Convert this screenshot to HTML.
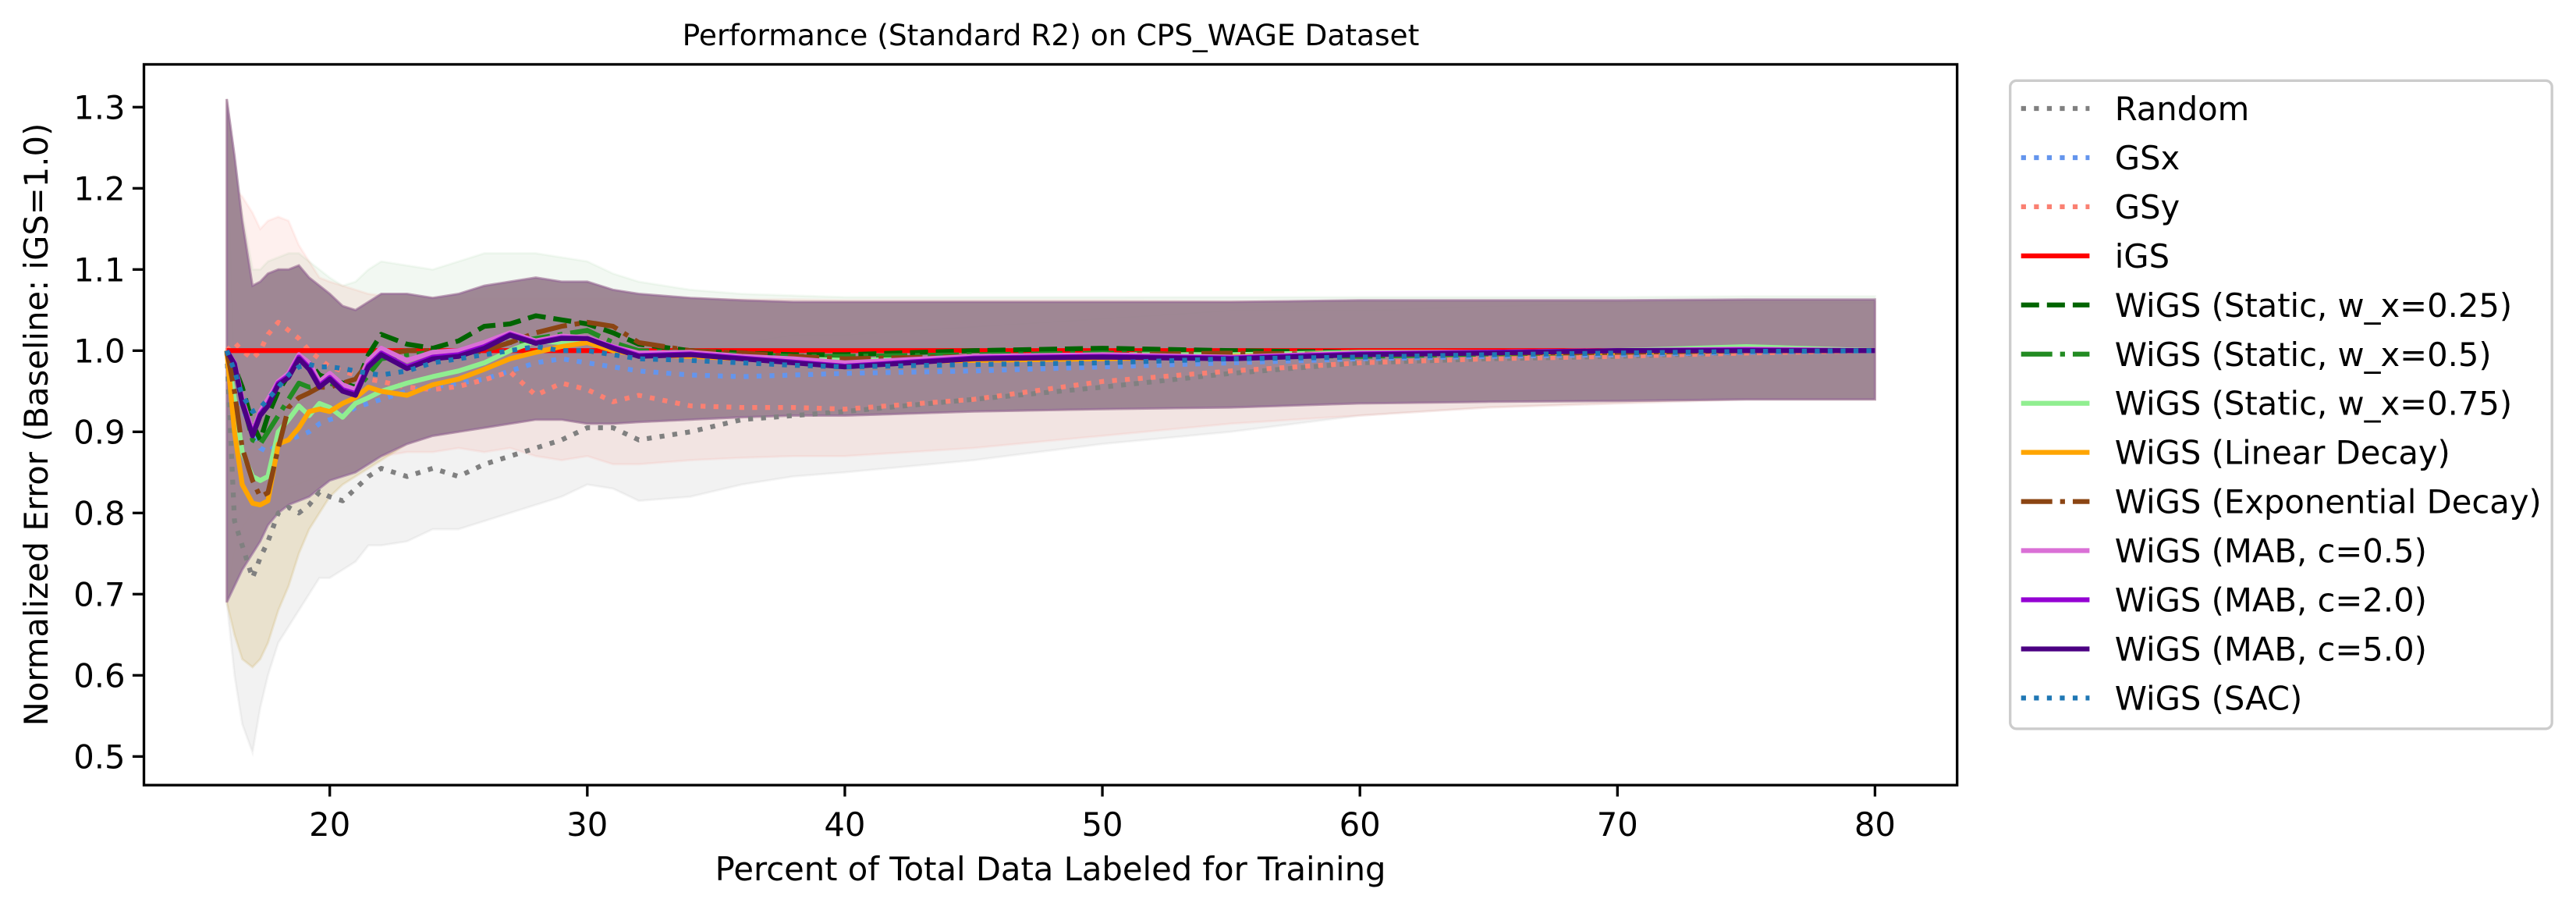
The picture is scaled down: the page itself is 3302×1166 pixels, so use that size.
<!DOCTYPE html>
<html><head><meta charset="utf-8"><style>
html,body{margin:0;padding:0;background:#fff;}
svg{display:block;font-family:"Liberation Sans","DejaVu Sans",sans-serif;}
</style></head><body>
<svg id="chart" width="3302" height="1166" viewBox="0 0 3302 1166" xmlns="http://www.w3.org/2000/svg">
<rect x="0" y="0" width="3302" height="1166" fill="#fff"/>
<text x="1347" y="58" font-size="37.5" text-anchor="middle" font-family="DejaVu Sans, sans-serif">Performance (Standard R2) on CPS_WAGE Dataset</text>
<defs><clipPath id="plotclip"><rect x="184.5" y="82.5" width="2324.2" height="923.5"/></clipPath></defs>
<g id="bands" clip-path="url(#plotclip)"></g>
<g id="lines" clip-path="url(#plotclip)"></g>
<g id="axes"></g>
<g id="legend"></g>
<text x="1346.6" y="1128" font-size="41.7" text-anchor="middle" font-family="DejaVu Sans, sans-serif">Percent of Total Data Labeled for Training</text>
<text transform="translate(61,544) rotate(-90)" font-size="41.7" text-anchor="middle" font-family="DejaVu Sans, sans-serif">Normalized Error (Baseline: iGS=1.0)</text>
</svg>
<script>
const xs = [16,16.3,16.6,17,17.3,17.6,18,18.4,18.8,19.2,19.6,20,20.5,21,21.5,22,23,24,25,26,27,28,29,30,31,32,34,36,38,40,45,50,55,60,65,70,75,80];
const randomVals = [1,0.79,0.76,0.72,0.745,0.765,0.8,0.807,0.8,0.81,0.826,0.82,0.815,0.83,0.845,0.855,0.845,0.855,0.845,0.86,0.87,0.88,0.89,0.905,0.905,0.89,0.9,0.915,0.92,0.925,0.94,0.955,0.972,0.985,0.99,0.993,0.998,1.0];
const gsxVals = [1,0.96,0.93,0.9,0.88,0.875,0.885,0.89,0.895,0.9,0.91,0.915,0.92,0.93,0.935,0.94,0.95,0.955,0.96,0.965,0.975,0.985,0.99,0.985,0.98,0.975,0.97,0.968,0.97,0.972,0.975,0.98,0.985,0.99,0.993,0.995,0.998,1.0];
const gsyVals = [1,1.01,1.0,0.99,1.0,1.02,1.035,1.025,1.015,1.0,0.99,0.98,0.975,0.97,0.965,0.962,0.955,0.952,0.956,0.964,0.974,0.945,0.96,0.952,0.937,0.945,0.932,0.93,0.93,0.928,0.94,0.962,0.975,0.985,0.99,0.993,0.997,1.0];
const igsVals = [1,1,1,1,1,1,1,1,1,1,1,1,1,1,1,1,1,1,1,1,1,1,1,1,1,1,1,1,1,1,1,1,1,1,1,1,1,1];
const static25Vals = [1,0.98,0.955,0.91,0.89,0.92,0.95,0.97,0.99,0.985,0.97,0.965,0.96,0.955,0.995,1.02,1.008,1.003,1.012,1.03,1.033,1.043,1.038,1.033,1.022,1.008,1.0,0.997,0.995,0.995,1.0,1.003,1.0,0.998,0.997,0.999,1.0,1.0];
const static50Vals = [1,0.975,0.94,0.89,0.885,0.9,0.92,0.94,0.96,0.955,0.958,0.96,0.955,0.95,0.97,0.99,0.995,0.998,1.0,1.005,1.01,1.015,1.02,1.025,1.01,1.0,0.997,0.995,0.993,0.993,0.995,0.997,0.995,0.993,0.996,0.998,1.0,1.0];
const static75Vals = [1,0.94,0.875,0.845,0.84,0.845,0.9,0.915,0.932,0.92,0.935,0.93,0.918,0.935,0.942,0.95,0.96,0.968,0.975,0.985,1.0,1.012,1.01,1.015,1.0,0.995,0.995,0.99,0.99,0.988,0.99,0.995,0.995,0.998,0.998,1.0,1.005,1.0];
const linearVals = [1,0.9,0.835,0.812,0.81,0.815,0.885,0.89,0.905,0.925,0.928,0.925,0.935,0.942,0.955,0.95,0.945,0.958,0.965,0.977,0.99,0.998,1.005,1.01,1.0,0.995,0.993,0.99,0.988,0.985,0.988,0.99,0.993,0.995,0.997,0.998,1.0,1.0];
const expVals = [1,0.95,0.88,0.84,0.82,0.825,0.88,0.93,0.942,0.948,0.955,0.955,0.96,0.965,0.985,0.995,1.0,1.0,0.995,1.0,1.01,1.022,1.03,1.035,1.03,1.01,1.0,0.997,0.993,0.99,0.993,0.995,0.997,0.995,0.997,0.998,1.0,1.0];
const mab05Vals = [1,0.985,0.94,0.9,0.925,0.94,0.962,0.972,0.995,0.985,0.962,0.972,0.958,0.952,0.988,1.003,0.988,0.998,1.0,1.01,1.022,1.012,1.018,1.016,1.005,0.997,0.998,0.993,0.99,0.985,0.993,0.995,0.992,0.997,0.998,1.0,1.002,1.0];
const mab20Vals = [1,0.984,0.937,0.897,0.922,0.934,0.96,0.969,0.992,0.979,0.957,0.967,0.952,0.947,0.982,0.997,0.98,0.992,0.995,1.005,1.02,1.01,1.016,1.015,1.004,0.994,0.996,0.991,0.986,0.981,0.991,0.993,0.991,0.996,0.998,1.0,1.001,1.0];
const mab50Vals = [1,0.983,0.935,0.895,0.92,0.932,0.958,0.967,0.99,0.977,0.955,0.965,0.95,0.945,0.98,0.995,0.978,0.99,0.993,1.003,1.019,1.009,1.015,1.015,1.003,0.993,0.995,0.99,0.985,0.98,0.99,0.992,0.99,0.995,0.997,1.0,1.0,1.0];
const sacVals = [1,0.975,0.945,0.925,0.93,0.94,0.955,0.97,0.98,0.983,0.98,0.98,0.978,0.975,0.972,0.97,0.975,0.985,0.99,0.995,1.0,1.005,1.0,1.0,0.995,0.99,0.988,0.985,0.982,0.98,0.983,0.985,0.99,0.992,0.995,0.997,0.999,1.0];
const wigsHi = [1.31,1.24,1.16,1.08,1.085,1.095,1.1,1.1,1.105,1.09,1.08,1.07,1.055,1.05,1.06,1.07,1.07,1.065,1.07,1.08,1.085,1.09,1.085,1.085,1.075,1.07,1.065,1.062,1.06,1.06,1.06,1.06,1.06,1.062,1.062,1.062,1.063,1.063];
const wigsLo = [0.69,0.71,0.73,0.75,0.765,0.785,0.8,0.81,0.815,0.82,0.83,0.84,0.845,0.85,0.86,0.87,0.885,0.895,0.9,0.905,0.91,0.915,0.915,0.91,0.91,0.912,0.915,0.918,0.92,0.92,0.925,0.928,0.93,0.935,0.937,0.938,0.94,0.94];
const greenHi = [1.31,1.24,1.17,1.1,1.1,1.11,1.115,1.12,1.12,1.11,1.1,1.09,1.08,1.085,1.1,1.11,1.105,1.1,1.11,1.12,1.12,1.12,1.115,1.11,1.095,1.085,1.075,1.07,1.068,1.066,1.066,1.066,1.066,1.066,1.066,1.066,1.067,1.067];
const decayLo = [0.69,0.65,0.62,0.61,0.62,0.64,0.68,0.71,0.75,0.78,0.8,0.82,0.835,0.845,0.855,0.865,0.885,0.895,0.9,0.905,0.91,0.915,0.915,0.91,0.91,0.912,0.915,0.918,0.92,0.92,0.925,0.928,0.93,0.935,0.937,0.938,0.94,0.94];
const randomLo = [0.69,0.6,0.54,0.505,0.56,0.6,0.64,0.66,0.68,0.7,0.72,0.72,0.73,0.74,0.76,0.76,0.765,0.78,0.78,0.79,0.8,0.81,0.82,0.835,0.83,0.815,0.82,0.835,0.845,0.85,0.865,0.885,0.9,0.92,0.93,0.935,0.94,0.94];
const randomHi = [1.31,0.98,0.96,0.94,0.94,0.95,0.96,0.96,0.95,0.95,0.96,0.96,0.95,0.96,0.97,0.98,0.97,0.97,0.96,0.97,0.98,0.99,1.0,1.01,1.01,1.0,1.0,1.01,1.02,1.02,1.03,1.04,1.05,1.05,1.055,1.06,1.06,1.06];
const gsyHi = [1.31,1.2,1.19,1.17,1.15,1.16,1.165,1.16,1.13,1.11,1.09,1.085,1.08,1.075,1.07,1.068,1.066,1.065,1.065,1.065,1.065,1.065,1.065,1.065,1.065,1.065,1.064,1.063,1.063,1.062,1.062,1.062,1.061,1.061,1.06,1.06,1.06,1.06];
const gsyLo = [0.69,0.75,0.78,0.8,0.805,0.81,0.82,0.83,0.835,0.84,0.845,0.85,0.855,0.86,0.865,0.87,0.875,0.875,0.88,0.875,0.88,0.87,0.865,0.87,0.86,0.86,0.865,0.868,0.87,0.87,0.88,0.895,0.91,0.92,0.93,0.935,0.94,0.94];
const xTicks = [20,30,40,50,60,70,80];
const yTicks = [0.5,0.6,0.7,0.8,0.9,1.0,1.1,1.2,1.3];
const yTickLabels = ["0.5","0.6","0.7","0.8","0.9","1.0","1.1","1.2","1.3"];
const seriesNames = ["Random","GSx","GSy","iGS","WiGS (Static, w_x=0.25)","WiGS (Static, w_x=0.5)","WiGS (Static, w_x=0.75)","WiGS (Linear Decay)","WiGS (Exponential Decay)","WiGS (MAB, c=0.5)","WiGS (MAB, c=2.0)","WiGS (MAB, c=5.0)","WiGS (SAC)"];

const NS = "http://www.w3.org/2000/svg";
const L = 184.5, R = 2508.7, T = 82.5, B = 1006;
function sx(v){ return 422.7 + (v - 20) * 33.012; }
function sy(v){ return 449.3 - (v - 1.0) * 1040; }
function mk(tag, attrs, parent){ const e = document.createElementNS(NS, tag); for (const k in attrs) e.setAttribute(k, attrs[k]); parent.appendChild(e); return e; }
function linePath(vals){ return xs.map((x,i)=>(i?"L":"M")+sx(x).toFixed(1)+","+sy(vals[i]).toFixed(1)).join(""); }
function bandPath(lo, hi){
  let d = xs.map((x,i)=>(i?"L":"M")+sx(x).toFixed(1)+","+sy(hi[i]).toFixed(1)).join("");
  for (let i = xs.length-1; i >= 0; i--) d += "L"+sx(xs[i]).toFixed(1)+","+sy(lo[i]).toFixed(1);
  return d + "Z";
}
const styles = [
  {c:"#808080", dash:"6.25,10.3", vals:randomVals},
  {c:"#6495ed", dash:"6.25,10.3", vals:gsxVals},
  {c:"#fa8072", dash:"6.25,10.3", vals:gsyVals},
  {c:"#ff0000", dash:"", vals:igsVals},
  {c:"#006400", dash:"23.1,10", vals:static25Vals},
  {c:"#228b22", dash:"40,10,6.25,10", vals:static50Vals},
  {c:"#90ee90", dash:"", vals:static75Vals},
  {c:"#ffa500", dash:"", vals:linearVals},
  {c:"#8b4513", dash:"40,10,6.25,10", vals:expVals},
  {c:"#da70d6", dash:"", vals:mab05Vals},
  {c:"#9400d3", dash:"", vals:mab20Vals},
  {c:"#4b0082", dash:"", vals:mab50Vals},
  {c:"#1f77b4", dash:"6.25,10.3", vals:sacVals}
];
const bandDefs = [
  {name:"band-random", lo:randomLo, hi:randomHi, fill:"#808080", a:0.1},
  {name:"band-gsy", lo:gsyLo, hi:gsyHi, fill:"#fa8072", a:0.12},
  {name:"band-static", lo:wigsLo, hi:greenHi, fill:"#228b22", a:0.06},
  {name:"band-decay", lo:decayLo, hi:wigsHi, fill:"#c8a24a", a:0.22},
  {name:"band-wigs-core", lo:wigsLo, hi:wigsHi, fill:"#9b8391", a:0.95}
];
const bandsG = document.getElementById("bands");
const linesG = document.getElementById("lines");
bandDefs.forEach(bd => {
  const b = mk("path", {d: bandPath(bd.lo, bd.hi), fill: bd.fill, "fill-opacity": bd.a, stroke: bd.name==="band-wigs-core" ? "#8e5a9a" : bd.fill, "stroke-opacity": bd.name==="band-wigs-core" ? 0.5 : bd.a*0.8, "stroke-width": 3}, bandsG);
  
  
});
styles.forEach((s, i) => {
  const a = {d: linePath(s.vals), fill: "none", stroke: s.c, "stroke-width": 6.25, "stroke-linejoin": "round"};
  if (s.dash) a["stroke-dasharray"] = s.dash;
  const p = mk("path", a, linesG);
  
  
});
const ax = document.getElementById("axes");
const frame = mk("rect", {x:L, y:T, width:R-L, height:B-T, fill:"none", stroke:"#000", "stroke-width":3.33}, ax);


xTicks.forEach(t => {
  const tk = mk("line", {x1:sx(t), x2:sx(t), y1:B, y2:B+14.6, stroke:"#000", "stroke-width":3.33}, ax);
  
  
  const lb = mk("text", {x:sx(t), y:1071, "font-size":41.7, "text-anchor":"middle", "font-family":"DejaVu Sans, sans-serif"}, ax);
  lb.textContent = String(t);
  
  
});
yTicks.forEach((t, i) => {
  const tk = mk("line", {x1:L-14.6, x2:L, y1:sy(t), y2:sy(t), stroke:"#000", "stroke-width":3.33}, ax);
  
  
  const lb = mk("text", {x:L-24, y:sy(t)+15, "font-size":41.7, "text-anchor":"end", "font-family":"DejaVu Sans, sans-serif"}, ax);
  lb.textContent = yTickLabels[i];
  
  
});
const lg = document.getElementById("legend");
const box = mk("rect", {x:2576.7, y:103.3, width:694.5, height:830.5, rx:8, fill:"#fff", "fill-opacity":0.8, stroke:"#cccccc", "stroke-width":3.33}, lg);


seriesNames.forEach((n, i) => {
  const y = 139 + i * 62.95;
  const s = styles[i];
  const a = {x1:2590.7, x2:2678.4, y1:y, y2:y, stroke:s.c, "stroke-width":6.25};
  if (s.dash) a["stroke-dasharray"] = s.dash;
  const h = mk("line", a, lg);
  
  
  const t = mk("text", {x:2710.7, y:y+15, "font-size":41.7, "font-family":"DejaVu Sans, sans-serif"}, lg);
  t.textContent = n;
  
  
});
</script>
</body></html>
